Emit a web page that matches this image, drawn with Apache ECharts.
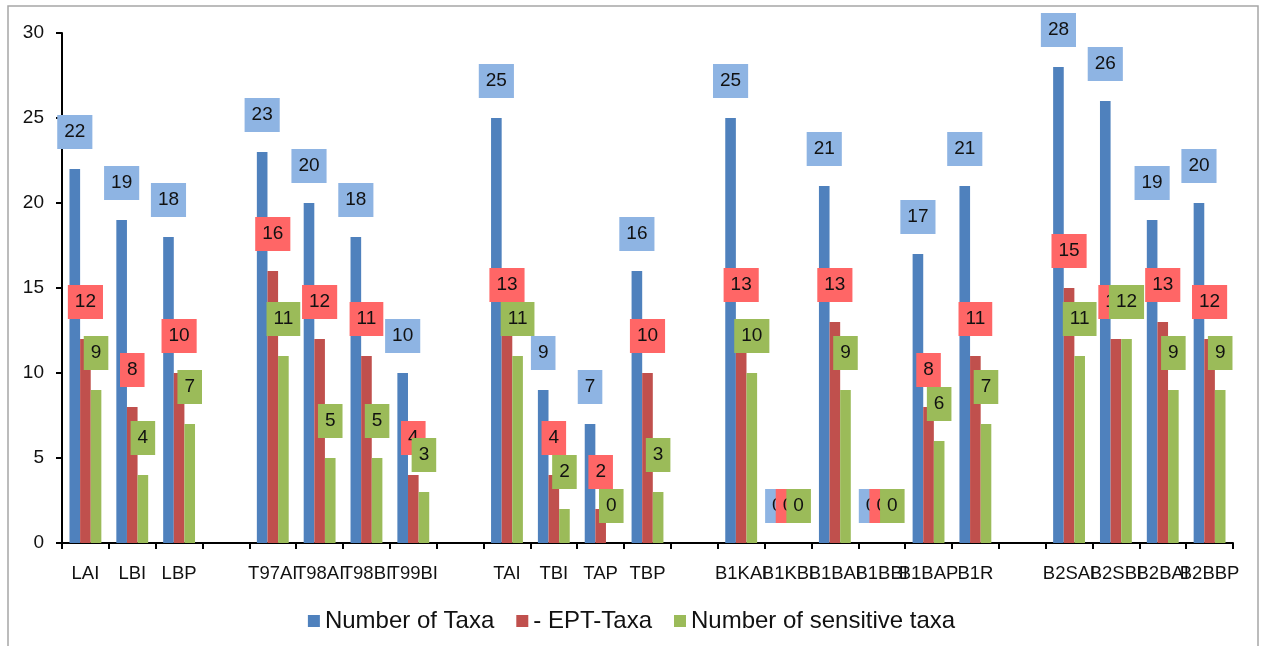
<!DOCTYPE html>
<html>
<head>
<meta charset="utf-8">
<script src="https://cdn.jsdelivr.net/npm/echarts@6/dist/echarts.min.js"></script>
<style>html,body{margin:0;padding:0;background:#fff;}#c{width:1263px;height:646px;}</style>
</head>
<body>
<div id="c"></div>
<script>
const categories = ['LAI','LBI','LBP','','T97AI','T98AI','T98BI','T99BI','','TAI','TBI','TAP','TBP','','B1KAI','B1KBI','B1BAI','B1BBI','B1BAP','B1R','','B2SAI','B2SBI','B2BAI','B2BBP'];
const numberOfTaxa = [22,19,18,null,23,20,18,10,null,25,9,7,16,null,25,0,21,0,17,21,null,28,26,19,20];
const eptTaxa = [12,8,10,null,16,12,11,4,null,13,4,2,10,null,13,0,13,0,8,11,null,15,12,13,12];
const sensitiveTaxa = [9,4,7,null,11,5,5,3,null,11,2,0,3,null,10,0,9,0,6,7,null,11,12,9,9];
const seriesNames = ['Number of Taxa','- EPT-Taxa','Number of sensitive taxa'];
const yTicks = {min:0, max:30, interval:5};

const FONT = "'Liberation Sans', Arial, sans-serif";
const chart = echarts.init(document.getElementById('c'), null, {renderer:'canvas'});
function lbl(bg){
  return {show:true, position:'top', distance:20, backgroundColor:bg, padding:[7,7,7,7],
    color:'#111', fontSize:19, lineHeight:20, fontFamily:FONT};
}
chart.setOption({
  animation:false,
  graphic:[{type:'rect', shape:{x:8,y:6,width:1250,height:660}, style:{fill:'none', stroke:'#a6a6a6', lineWidth:1.5}, silent:true}],
  grid:{left:62, right:30, top:33, bottom:103},
  legend:{bottom:8, left:'center', itemWidth:12, itemHeight:12, itemGap:22,
    textStyle:{fontSize:24, fontFamily:FONT, color:'#111'}, icon:'rect',
    data:seriesNames},
  xAxis:{type:'category', data:categories,
    axisLine:{lineStyle:{color:'#000', width:2}},
    axisTick:{show:true, length:6, lineStyle:{color:'#000', width:2}},
    axisLabel:{interval:0, margin:21, fontSize:18.5, fontFamily:FONT, color:'#111'}},
  yAxis:{type:'value', min:yTicks.min, max:yTicks.max, interval:yTicks.interval,
    splitLine:{show:false},
    axisLine:{show:true, lineStyle:{color:'#000', width:2}},
    axisTick:{show:true, length:6, lineStyle:{color:'#000', width:2}},
    axisLabel:{margin:18, fontSize:19, fontFamily:FONT, color:'#111'}},
  series:[
    {name:seriesNames[0], type:'bar', data:numberOfTaxa, barGap:'0%', barCategoryGap:'32%',
      itemStyle:{color:'#4F81BD'}, label:lbl('#8EB4E3')},
    {name:seriesNames[1], type:'bar', data:eptTaxa, barGap:'0%', barCategoryGap:'32%',
      itemStyle:{color:'#C0504D'}, label:lbl('#FF6666')},
    {name:seriesNames[2], type:'bar', data:sensitiveTaxa, barGap:'0%', barCategoryGap:'32%',
      itemStyle:{color:'#9BBB59'}, label:lbl('#9BBB59')}
  ]
});
</script>
</body>
</html>
